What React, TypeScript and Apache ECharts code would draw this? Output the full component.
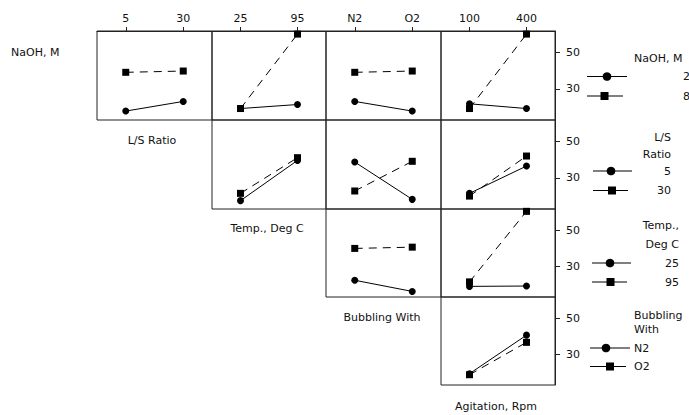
import React, { useEffect, useRef } from "react";
import * as echarts from "echarts";

// Factor levels (column factors, left to right)
const lsLevels = ["5", "30"];
const tempLevels = ["25", "95"];
const bubblingLevels = ["N2", "O2"];
const agitationLevels = ["100", "400"];

// Row factor legend labels
const rowTitles = ["NaOH, M", "L/S Ratio", "Temp., Deg C", "Bubbling With", "Agitation, Rpm"];
const naohLegend = ["2", "8"];
const lsLegend = ["5", "30"];
const tempLegend = ["25", "95"];
const bubblingLegend = ["N2", "O2"];
const yTicks = [30, 50];

// Interaction means: [circle level, square level], values at the two column levels
const naohVsLsCircle = [17.8, 23.1];
const naohVsLsSquare = [39.1, 39.8];
const naohVsTempCircle = [19.2, 21.4];
const naohVsTempSquare = [19.2, 60.1];
const naohVsBubblingCircle = [23.1, 17.8];
const naohVsBubblingSquare = [39.1, 39.8];
const naohVsAgitationCircle = [21.8, 19.2];
const naohVsAgitationSquare = [19.2, 60.1];
const lsVsTempCircle = [17.5, 39.6];
const lsVsTempSquare = [21.5, 41.1];
const lsVsBubblingCircle = [38.7, 18.2];
const lsVsBubblingSquare = [22.8, 39.1];
const lsVsAgitationCircle = [21.5, 36.5];
const lsVsAgitationSquare = [20.0, 42.0];
const tempVsBubblingCircle = [22.2, 16.0];
const tempVsBubblingSquare = [39.9, 40.6];
const tempVsAgitationCircle = [18.8, 19.0];
const tempVsAgitationSquare = [21.3, 60.5];
const bubblingVsAgitationCircle = [19.2, 40.6];
const bubblingVsAgitationSquare = [18.6, 36.6];

const FONT = "DejaVu Sans";
const INK = "#111";

export default function App() {
  const ref = useRef<HTMLDivElement>(null);

  useEffect(() => {
    if (!ref.current) return;
    const chart = echarts.init(ref.current, undefined, { renderer: "svg" });

    const colLevels = [lsLevels, tempLevels, bubblingLevels, agitationLevels];
    const colLeft = [97, 212, 326, 441, 555];
    const rowTop = [31, 120, 209, 297, 385];

    const panels: { r: number; c: number; circle: number[]; square: number[] }[] = [
      { r: 0, c: 0, circle: naohVsLsCircle, square: naohVsLsSquare },
      { r: 0, c: 1, circle: naohVsTempCircle, square: naohVsTempSquare },
      { r: 0, c: 2, circle: naohVsBubblingCircle, square: naohVsBubblingSquare },
      { r: 0, c: 3, circle: naohVsAgitationCircle, square: naohVsAgitationSquare },
      { r: 1, c: 1, circle: lsVsTempCircle, square: lsVsTempSquare },
      { r: 1, c: 2, circle: lsVsBubblingCircle, square: lsVsBubblingSquare },
      { r: 1, c: 3, circle: lsVsAgitationCircle, square: lsVsAgitationSquare },
      { r: 2, c: 2, circle: tempVsBubblingCircle, square: tempVsBubblingSquare },
      { r: 2, c: 3, circle: tempVsAgitationCircle, square: tempVsAgitationSquare },
      { r: 3, c: 3, circle: bubblingVsAgitationCircle, square: bubblingVsAgitationSquare },
    ];

    const grid: any[] = [];
    const xAxis: any[] = [];
    const yAxis: any[] = [];
    const series: any[] = [];

    panels.forEach((p, i) => {
      grid.push({
        left: colLeft[p.c],
        top: rowTop[p.r],
        width: colLeft[p.c + 1] - colLeft[p.c],
        height: rowTop[p.r + 1] - rowTop[p.r],
        show: true,
        borderColor: "#222",
        borderWidth: 1,
        backgroundColor: "transparent",
      });
      const topRow = p.r === 0;
      xAxis.push({
        gridIndex: i,
        type: "category",
        data: colLevels[p.c],
        position: "top",
        boundaryGap: true,
        axisLine: { show: topRow, lineStyle: { color: "#222", width: 1 } },
        axisTick: { show: topRow, alignWithLabel: true, length: 4, lineStyle: { color: "#222" } },
        axisLabel: { show: topRow, margin: 7, color: INK, fontSize: 11, fontFamily: FONT },
        splitLine: { show: false },
      });
      const lastCol = p.c === 3;
      yAxis.push({
        gridIndex: i,
        type: "value",
        position: "right",
        min: 12.9,
        max: 61.8,
        axisLine: { show: lastCol, lineStyle: { color: "#222", width: 1 } },
        axisTick: { show: lastCol, length: 5, customValues: yTicks, lineStyle: { color: "#222" } },
        axisLabel: { show: lastCol, margin: 11, customValues: yTicks, color: INK, fontSize: 11, fontFamily: FONT },
        splitLine: { show: false },
      });
      series.push({
        type: "line",
        xAxisIndex: i,
        yAxisIndex: i,
        data: p.circle,
        symbol: "circle",
        symbolSize: 7,
        clip: false,
        itemStyle: { color: "#000" },
        lineStyle: { color: "#000", width: 1 },
        z: 3,
      });
      series.push({
        type: "line",
        xAxisIndex: i,
        yAxisIndex: i,
        data: p.square,
        symbol: "rect",
        symbolSize: 7,
        clip: false,
        itemStyle: { color: "#000" },
        lineStyle: { color: "#000", width: 1, type: [8, 6] },
        z: 4,
      });
    });

    // Static texts as title components (plain weight)
    const titles: any[] = [];
    const txt = (text: string, x: number, y: number, align: string) => {
      const t: any = {
        text,
        top: y - 7,
        padding: 0,
        textStyle: { color: INK, fontSize: 11, fontWeight: "normal", fontFamily: FONT, lineHeight: 14 },
      };
      if (align === "left") t.left = x;
      else if (align === "right") t.right = 689 - x;
      else {
        t.left = x;
        t.textAlign = "center";
      }
      titles.push(t);
    };
    const legendRow = (y: number, x1: number, x2: number, mx: number, square: boolean) => {
      const line = { type: "line", shape: { x1, y1: y, x2, y2: y }, style: { stroke: "#000", lineWidth: 1.2 } };
      const mark = square
        ? { type: "rect", shape: { x: mx - 4, y: y - 4, width: 8, height: 8 }, style: { fill: "#000" } }
        : { type: "circle", shape: { cx: mx, cy: y, r: 4.3 }, style: { fill: "#000" } };
      return [line, mark];
    };

    txt(rowTitles[0], 11, 52, "left");
    txt(rowTitles[1], 152, 140, "center");
    txt(rowTitles[2], 267, 228, "center");
    txt(rowTitles[3], 382, 317, "center");
    txt(rowTitles[4], 496, 406, "center");
    txt(rowTitles[0], 634, 58, "left");
    txt(naohLegend[0], 690, 76.5, "right");
    txt(naohLegend[1], 690, 96, "right");
    txt("L/S", 671, 137, "right");
    txt("Ratio", 671, 154, "right");
    txt(lsLegend[0], 671, 171, "right");
    txt(lsLegend[1], 671, 190.5, "right");
    txt("Temp.,", 679, 225, "right");
    txt("Deg C", 679, 244, "right");
    txt(tempLegend[0], 679, 263, "right");
    txt(tempLegend[1], 679, 282, "right");
    txt("Bubbling", 634, 315, "left");
    txt("With", 634, 329.5, "left");
    txt(bubblingLegend[0], 634, 348, "left");
    txt(bubblingLegend[1], 634, 366.5, "left");

    const graphic: any[] = [
      ...legendRow(76.5, 587, 627, 607, false),
      ...legendRow(96, 587, 623, 604.5, true),
      ...legendRow(171, 593, 632, 611, false),
      ...legendRow(190.5, 593, 628, 612, true),
      ...legendRow(263, 592, 631, 610, false),
      ...legendRow(282, 592, 627, 610.5, true),
      ...legendRow(348, 590, 630, 606, false),
      ...legendRow(366.5, 590, 626, 610, true),
    ];

    chart.setOption({
      animation: false,
      backgroundColor: "#fff",
      title: titles,
      grid,
      xAxis,
      yAxis,
      series,
      graphic,
    });

    return () => chart.dispose();
  }, []);

  return (
    <div
      ref={ref}
      style={{ position: "absolute", left: 0, top: 0, width: 689, height: 415 }}
    />
  );
}
